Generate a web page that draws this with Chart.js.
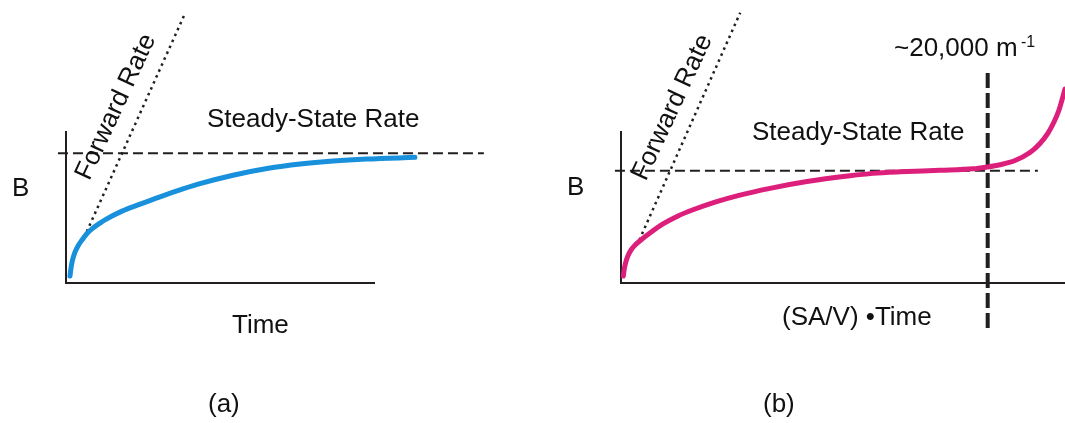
<!DOCTYPE html>
<html>
<head>
<meta charset="utf-8">
<script src="https://cdn.jsdelivr.net/npm/chart.js@4.4.1/dist/chart.umd.min.js"></script>
<style>
  html, body { margin: 0; padding: 0; background: #ffffff; }
  #wrap { position: relative; width: 1065px; height: 423px; }
  canvas { position: absolute; left: 0; top: 0; }
</style>
</head>
<body>
<div id="wrap">
  <canvas id="chartA" width="1065" height="423"></canvas>
  <canvas id="chartB" width="1065" height="423"></canvas>
</div>
<script>
// ---------- Panel (a): B vs Time ----------
const timeA = [1.39, 1.71, 2.20, 3.01, 3.98, 5.28, 6.89, 8.83, 11.09, 12.70, 18.20, 23.38, 30.5, 37.9, 43.4, 54.1, 65.1, 75.8, 86.5, 97.4, 112.9];
const bA    = [4.4, 9.7, 15.0, 20.3, 24.3, 28.3, 32.6, 36.2, 39.5, 41.6, 47.4, 51.5, 56.9, 62.1, 65.6, 71.2, 75.6, 78.6, 80.6, 81.9, 83.0];
const forwardA_x = [6.8, 38.6];
const forwardA_y = [33.8, 178.4];
const steadyA_x = [-2.5, 135.2];
const steadyA_y = [85.7, 85.7];

// ---------- Panel (b): B vs (SA/V)·Time ----------
const satB = [0.59, 0.8, 1.1, 1.6, 2.3, 3.2, 4.34, 6.59, 9.52, 12.90, 16.27, 21.23, 26.40, 33.60, 41.93, 51.60, 56.78, 62.85, 71.87, 79.29, 82.22, 85.37, 88.75, 92.12, 94.37, 96.17, 97.52, 98.65, 99.32, 100.0];
const bB   = [4.4, 9.0, 13.2, 17.6, 21.6, 24.8, 27.8, 32.9, 38.9, 44.2, 48.3, 53.4, 57.7, 62.5, 67.0, 70.8, 72.4, 73.4, 74.4, 75.4, 76.5, 78.1, 80.9, 86.2, 92.2, 99.1, 106.4, 114.4, 121.0, 128.3];
const forwardB_x = [4.2, 26.9];
const forwardB_y = [28.3, 178.8];
const steadyB_x = [-1.3, 93.9];
const steadyB_y = [74.2, 74.2];
const thresholdB_x = [82.6, 82.6];
const thresholdB_y = [-30, 142];

const axisLabelsA = { y: 'B', x: 'Time', panel: '(a)', forward: 'Forward Rate', steady: 'Steady-State Rate' };
const axisLabelsB = { y: 'B', x: '(SA/V) \u2022Time', panel: '(b)', forward: 'Forward Rate', steady: 'Steady-State Rate', threshold: '~20,000 m', thresholdSup: '-1' };

const pts = (xs, ys) => xs.map((x, i) => ({ x: x, y: ys[i] }));

const FONT = '"Liberation Sans", Arial, Helvetica, sans-serif';
const INK = '#231f20';

const textPlugin = {
  id: 'textLabels',
  afterDraw(chart, args, opts) {
    const ctx = chart.ctx;
    (opts.items || []).forEach(it => {
      ctx.save();
      ctx.fillStyle = it.color || '#111111';
      ctx.font = (it.size || 26) + 'px ' + FONT;
      ctx.textAlign = it.align || 'left';
      ctx.textBaseline = it.baseline || 'alphabetic';
      ctx.translate(it.x, it.y);
      if (it.rotate) ctx.rotate(it.rotate * Math.PI / 180);
      ctx.fillText(it.text, 0, 0);
      ctx.restore();
    });
  }
};

function hiddenScale(min, max) {
  return {
    type: 'linear', min: min, max: max,
    grid: { display: false, drawTicks: false, tickLength: 0 },
    ticks: { display: false },
    border: { display: true, color: INK, width: 2 }
  };
}

function makeChart(id, datasets, padding, yMax, xMax, items) {
  return new Chart(document.getElementById(id), {
    type: 'line',
    data: { datasets: datasets },
    options: {
      responsive: false,
      animation: false,
      events: [],
      devicePixelRatio: 1,
      layout: { padding: padding },
      scales: { x: hiddenScale(0, xMax), y: hiddenScale(0, yMax) },
      plugins: {
        legend: { display: false },
        tooltip: { enabled: false },
        textLabels: { items: items }
      },
      elements: { point: { radius: 0 } }
    },
    plugins: [textPlugin]
  });
}

function curveDs(data, color) {
  return { data: data, borderColor: color, borderWidth: 5, cubicInterpolationMode: 'monotone', clip: false, pointRadius: 0, borderCapStyle: 'round', borderJoinStyle: 'round' };
}
function dottedDs(data) {
  return { data: data, borderColor: INK, borderWidth: 2.5, borderDash: [2.5, 4], tension: 0, clip: false, pointRadius: 0 };
}
function dashedDs(data, width, dash) {
  return { data: data, borderColor: INK, borderWidth: width, borderDash: dash, tension: 0, clip: false, pointRadius: 0 };
}

makeChart('chartA', [
  curveDs(pts(timeA, bA), '#1990dc'),
  dottedDs(pts(forwardA_x, forwardA_y)),
  dashedDs(pts(steadyA_x, steadyA_y), 2, [10, 5])
], { left: 65.7, right: 1065 - 375, top: 131.7, bottom: 423 - 282.7 }, 100, 100, [
  { text: axisLabelsA.forward, x: 116, y: 107, rotate: -65, align: 'center', baseline: 'middle' },
  { text: axisLabelsA.steady, x: 207, y: 127 },
  { text: axisLabelsA.y, x: 12, y: 196 },
  { text: axisLabelsA.x, x: 232, y: 333 },
  { text: axisLabelsA.panel, x: 208, y: 411.5 }
]);

makeChart('chartB', [
  curveDs(pts(satB, bB), '#dd1f7c'),
  dottedDs(pts(forwardB_x, forwardB_y)),
  dashedDs(pts(steadyB_x, steadyB_y), 2, [10, 5]),
  dashedDs(pts(thresholdB_x, thresholdB_y), 4, [15, 5])
], { left: 620.7, right: 0, top: 131.7, bottom: 423 - 282.7 }, 100, 100, [
  { text: axisLabelsB.forward, x: 672.5, y: 107.5, rotate: -65, align: 'center', baseline: 'middle' },
  { text: axisLabelsB.steady, x: 752, y: 140 },
  { text: axisLabelsB.y, x: 567, y: 195 },
  { text: axisLabelsB.x, x: 782, y: 324.5 },
  { text: axisLabelsB.panel, x: 763, y: 411.5 },
  { text: axisLabelsB.threshold, x: 894, y: 56 },
  { text: axisLabelsB.thresholdSup, x: 1021, y: 47, size: 16 }
]);
</script>
</body>
</html>
